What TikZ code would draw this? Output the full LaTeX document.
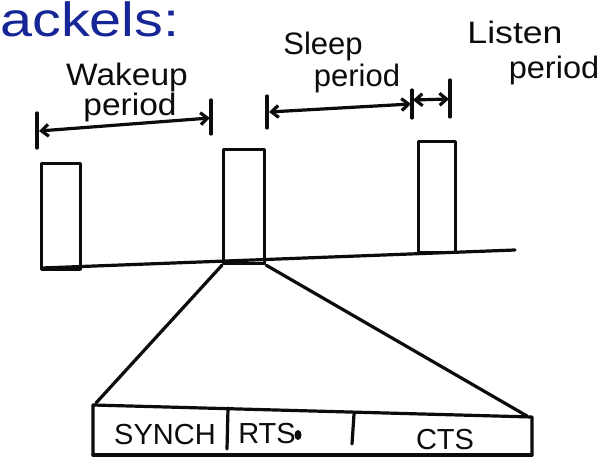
\documentclass[tikz,border=0pt]{standalone}
\usepackage{fontspec}
\setmainfont{Liberation Sans}
\usetikzlibrary{arrows.meta}
\definecolor{blueink}{RGB}{22,38,150}
\definecolor{ink}{RGB}{12,12,12}
\begin{document}
\begin{tikzpicture}[x=1pt,y=-1pt,
  pen/.style={draw=ink,line width=3.2pt,line cap=round,line join=round},
  slot/.style={pen,rectangle,inner sep=0pt,anchor=north west},
  dimarrow/.style={pen,{Straight Barb[length=7pt,width=12pt]}-{Straight Barb[length=7pt,width=12pt]}},
  hand/.style={text=ink,inner sep=0pt,font=\fontsize{31}{31}\selectfont},
  field/.style={text=ink,inner sep=0pt,font=\fontsize{29}{29}\selectfont}]
\useasboundingbox (0,0) rectangle (602,457);
\clip (0,0) rectangle (602,457);
\fill[white] (0,0) rectangle (602,457);

% heading
\node[text=blueink,inner sep=0pt,anchor=base west,xscale=1.2,font=\fontsize{48}{48}\selectfont] (head) at (0,37) {ackels:};

% period labels
\node[hand,xscale=1.08] (wake1) at (127,77) {Wakeup};
\node[hand,xscale=1.08] (wake2) at (130,107) {period};
\node[hand] (sleep1) at (323,46) {Sleep};
\node[hand] (sleep2) at (357,78) {period};
\node[hand,xscale=1.15] (lis1) at (515,32) {Listen};
\node[hand,xscale=1.05] (lis2) at (554,70) {period};

% tick marks
\coordinate (wa) at (37,113); \coordinate (wb) at (37,148);
\coordinate (wc) at (211,100); \coordinate (wd) at (211,134);
\coordinate (sa) at (267,96); \coordinate (sb) at (267,128);
\coordinate (sc) at (412,90); \coordinate (sd) at (412,118);
\coordinate (la) at (450,80); \coordinate (lb) at (450,117);
\draw[pen] (wa) -- (wb);
\draw[pen] (wc) -- (wd);
\draw[pen] (sa) -- (sb);
\draw[pen] (sc) -- (sd);
\draw[pen] (la) -- (lb);

% dimension arrows
\coordinate (w1) at (39,131); \coordinate (w2) at (210,118);
\coordinate (s1) at (269,112); \coordinate (s2) at (411,104);
\coordinate (l1) at (413,100); \coordinate (l2) at (449,99);
\draw[dimarrow] (w1) -- (w2);
\draw[dimarrow] (s1) -- (s2);
\draw[dimarrow] (l1) -- (l2);

% active slots on the time line
\node[slot,minimum width=39pt,minimum height=106pt] (box1) at (40,162) {};
\node[slot,minimum width=41pt,minimum height=114pt] (box2) at (222,148) {};
\node[slot,minimum width=37pt,minimum height=111pt] (box3) at (417,140) {};
\coordinate (t0) at (42,268);
\coordinate (t1) at (515,250);
\draw[pen] (t0) -- (t1);

% packet frame
\coordinate (fa) at (93,405);
\coordinate (fb) at (532,417);
\coordinate (fc) at (532,455);
\coordinate (fd) at (93,455);
\draw[pen] (fd) -- (fa) -- (fb) -- (fc);
\draw[pen] (fd) -- (fc);
\coordinate (d1a) at (228,408); \coordinate (d1b) at (227,449);
\coordinate (d2a) at (354,414); \coordinate (d2b) at (352,444);
\draw[pen] (d1a) -- (d1b);
\draw[pen] (d2a) -- (d2b);

% zoom lines from the middle slot to the frame
\coordinate (za) at (96,403);
\coordinate (zb) at (527,416);
\draw[pen] (box2.south west) -- (za);
\draw[pen] (box2.south east) -- (zb);

% frame fields
\node[field] (synch) at (165,435) {SYNCH};
\node[field] (rts) at (267,434) {RTS};
\fill[ink] (298,435) ellipse (3.5pt and 5pt);
\node[field] (cts) at (445,440) {CTS};
\end{tikzpicture}
\end{document}
